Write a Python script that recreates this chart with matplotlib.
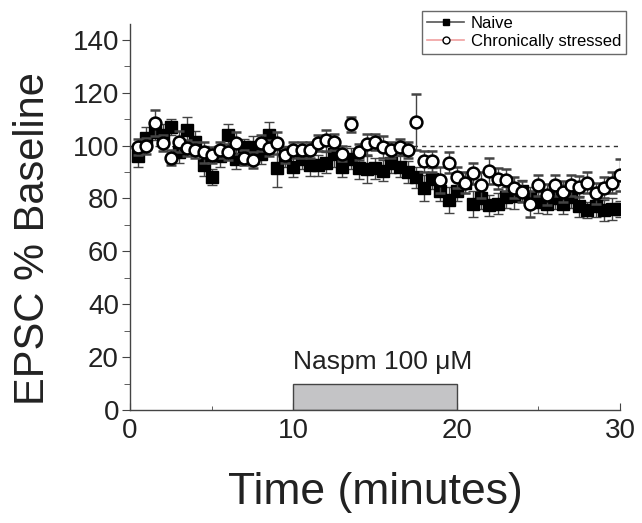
import matplotlib
matplotlib.use("Agg")
import matplotlib.pyplot as plt
from matplotlib.lines import Line2D
from matplotlib.patches import Rectangle
from matplotlib.ticker import MultipleLocator
import numpy as np

plt.rcParams['font.family'] = ['Liberation Sans', 'DejaVu Sans']

# time points (minutes), one every 30 s
time_min = np.arange(0.5, 30.01, 0.5)

# naive group, EPSC % of baseline and SEM
naive = [96, 103, 105, 104, 107, 97.5, 106, 101.5, 92.5, 88,
         96, 104, 95, 99.5, 99.5, 97, 104, 91.5, 96, 92,
         95, 92.5, 92.5, 93.5, 97, 92, 95, 91.5, 91, 91.5,
         90.5, 93.5, 92, 90, 88, 84, 87.5, 83, 79.5, 83,
         86, 78, 80, 77.5, 78, 80.5, 81, 83, 80.5, 78.5,
         78, 80, 78, 80.5, 77, 75.5, 77, 75.5, 76, 76]
naive_err = [4, 4, 3, 4, 3, 4, 5, 4, 4, 3,
             4, 4, 4, 3, 4, 4, 5, 7, 4, 4,
             4, 4, 4, 4, 5, 4, 4, 4, 5, 4,
             4, 4, 4, 4, 4, 5, 4, 4, 5, 4,
             4, 5, 4, 4, 4, 4, 5, 4, 4, 4,
             4, 4, 4, 4, 4, 3, 4, 4, 4, 3]

# chronically stressed group
stressed = [99.5, 100, 108.5, 101, 95.5, 101.5, 99, 98.5, 97.5, 96.5,
            98.5, 97.5, 101, 95.5, 94.5, 101, 99, 101, 96.5, 98.5,
            98.5, 98.5, 101, 102, 101.5, 97, 108, 97.5, 100.5, 101.5,
            99.5, 98.5, 99.5, 98.5, 109, 94, 94, 87, 93.5, 88,
            86, 89.5, 85, 90.5, 87.5, 87, 84, 82.5, 78, 85,
            81.5, 85, 82.5, 85, 84.5, 86, 82, 84, 86, 89]
stressed_err = [3, 3, 5, 3, 3, 4, 3, 3, 4, 3,
                3, 3, 4, 3, 3, 3, 3, 4, 3, 3,
                3, 3, 3, 4, 3, 3, 3, 3, 4, 3,
                4, 3, 3, 3, 10.5, 4, 4, 5, 4, 4,
                4, 4, 5, 5, 4, 4, 4, 4, 5, 4,
                4, 4, 4, 4, 4, 4, 4, 4, 4, 6]

drug_start, drug_end, drug_height = 10, 20, 10

fig = plt.figure(figsize=(6.42, 5.23), dpi=100)
ax = fig.add_axes([130 / 642, 1 - 410 / 523, 490 / 642, 386 / 523])

ax.plot([0, 30], [100, 100], ls=(0, (3, 3)), color='#333333', lw=1, zorder=1)

ax.errorbar(time_min, naive, yerr=naive_err, fmt='s', color='black',
            ms=8, mfc='black', mec='black', ecolor='#444444',
            elinewidth=1, capsize=3.5, capthick=1, zorder=3)
ax.errorbar(time_min, stressed, yerr=stressed_err, fmt='o', color='black',
            ms=8.5, mfc='white', mec='black', mew=1.8, ecolor='#444444',
            elinewidth=1, capsize=3.5, capthick=1, zorder=4)

ax.add_patch(Rectangle((drug_start, 0), drug_end - drug_start, drug_height,
                       facecolor='#c4c4c6', edgecolor='#444444', lw=1, zorder=2))
ax.text(drug_start, drug_height + 3.5, 'Naspm 100 \u03bcM', fontsize=19,
        color='#222222', ha='left', va='bottom')

ax.set_xlim(0, 30)
ax.set_ylim(0, 146)
ax.xaxis.set_major_locator(MultipleLocator(10))
ax.xaxis.set_minor_locator(MultipleLocator(5))
ax.yaxis.set_major_locator(MultipleLocator(20))
ax.yaxis.set_minor_locator(MultipleLocator(10))
ax.tick_params(axis='x', which='both', direction='in', labelsize=20, pad=6,
               colors='#444444', labelcolor='#222222')
ax.tick_params(axis='x', which='major', length=5)
ax.tick_params(axis='x', which='minor', length=3)
ax.tick_params(axis='y', which='both', direction='out', labelsize=20, pad=2,
               colors='#444444', labelcolor='#222222')
ax.tick_params(axis='y', which='major', length=6)
ax.tick_params(axis='y', which='minor', length=4)
for side in ['top', 'right']:
    ax.spines[side].set_visible(False)
for side in ['left', 'bottom']:
    ax.spines[side].set_color('#444444')
    ax.spines[side].set_linewidth(1)

ax.set_xlabel('Time (minutes)', fontsize=32, color='#222222', labelpad=20)
ax.set_ylabel('EPSC % Baseline', fontsize=30, color='#222222')
ax.yaxis.set_label_coords(-0.158, 0.445)

handles = [
    Line2D([], [], color='#555555', lw=1.2, marker='s', ms=5,
           mfc='black', mec='black'),
    Line2D([], [], color='#f0a0a0', lw=1.2, marker='o', ms=5,
           mfc='white', mec='black', mew=1),
]
leg = fig.legend(handles, ['Naive', 'Chronically stressed'], loc='upper right',
                 bbox_to_anchor=(626 / 642, 1 - 11 / 523), fontsize=12,
                 frameon=True, fancybox=False, edgecolor='#444444',
                 handlelength=2.2, handletextpad=0.4, labelspacing=0.2,
                 borderpad=0.3, borderaxespad=0)
leg.get_frame().set_linewidth(1)

fig.savefig('out.png', dpi=100)
